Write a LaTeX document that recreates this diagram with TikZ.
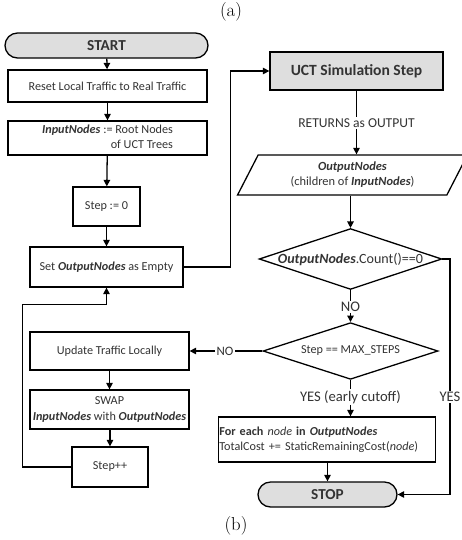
\documentclass[tikz,border=0pt]{standalone}
\usepackage{fontspec}
\usepackage{tikz}
\usetikzlibrary{arrows.meta, shapes.geometric}
\newfontfamily\calfont{Carlito}
\definecolor{termgray}{rgb}{0.87,0.87,0.87}
\definecolor{inkgray}{rgb}{0.2,0.2,0.2}

\newcommand{\bi}[1]{\textbf{\textit{#1}}}

\begin{document}
\begin{tikzpicture}[
  x=0.3mm, y=-0.3mm,
  box/.style={
    draw, line width=1.1pt, align=center, inner sep=1pt,
    text=inkgray, font=\calfont\fontsize{10.4}{13}\selectfont
  },
  term/.style={
    box, rounded corners=3.75mm, fill=termgray, minimum height=7.5mm,
    font=\calfont\bfseries\fontsize{13}{15}\selectfont
  },
  decide/.style={
    diamond, draw, line width=1.1pt, aspect=3, inner sep=0pt,
    minimum width=52.5mm, minimum height=17mm,
    text=inkgray, font=\calfont\fontsize{10.4}{13}\selectfont
  },
  io/.style={
    trapezium, trapezium left angle=64, trapezium right angle=116,
    trapezium stretches=true, draw, line width=1.1pt, align=center,
    minimum width=69mm, minimum height=12mm, inner sep=1pt,
    text=inkgray, font=\calfont\fontsize{10.6}{13}\selectfont
  },
  lbl/.style={inner sep=1pt, text=inkgray, font=\calfont\fontsize{12.5}{15}\selectfont},
  arr/.style={-{Triangle[length=5.5pt, width=5.5pt]}, line width=1.1pt},
  conn/.style={line width=1.1pt},
]
\useasboundingbox (0,0) rectangle (461,540);

%% ---- Captions ----
\node[font=\fontsize{16}{19}\selectfont] (capa) at (231, 12) {(a)};
\node[font=\fontsize{16}{19}\selectfont] (capb) at (236, 526) {(b)};

%% ---- Left column ----
\node[term, minimum width=60.9mm] (start) at (106.5, 45.5) {START};
\node[box, minimum width=59.7mm, minimum height=9.6mm] (reset) at (107.5, 86)
  {Reset Local Traffic to Real Traffic};
\node[box, minimum width=59.7mm, minimum height=10.2mm] (input) at (107.5, 138)
  {\begin{tabular}{@{}r@{}}\bi{InputNodes} := Root Nodes\\ of UCT Trees\end{tabular}};
\node[box, minimum width=20.1mm, minimum height=11.7mm] (stepz) at (106.5, 206.5)
  {Step := 0};
\node[box, minimum width=45.9mm, minimum height=12mm] (setout) at (106.5, 267)
  {Set \bi{OutputNodes} as Empty};
\node[box, minimum width=47.7mm, minimum height=11.4mm] (update) at (109.5, 351)
  {Update Traffic Locally};
\node[box, minimum width=47.7mm, minimum height=11.7mm] (swap) at (109.5, 409.5)
  {SWAP\\ \bi{InputNodes} with \bi{OutputNodes}};
\node[box, minimum width=22.8mm, minimum height=12mm] (stepinc) at (110, 467)
  {Step++};

%% ---- Right column ----
\node[box, fill=termgray, minimum width=51.9mm, minimum height=11.4mm,
  font=\calfont\bfseries\fontsize{13.3}{15}\selectfont] (uct) at (356.5, 71)
  {UCT Simulation Step};
\node[lbl, font=\calfont\fontsize{11.6}{14}\selectfont] (ret) at (356.5, 123)
  {RETURNS as OUTPUT};
\node[io] (outnodes) at (352.5, 175)
  {\bi{OutputNodes}\\ (children of \bi{InputNodes})};
\node[decide, font=\calfont\fontsize{12}{13}\selectfont] (empty) at (350.5, 259)
  {\bi{OutputNodes}.Count()==0};
\node[lbl] (noa) at (350.5, 307) {NO};
\node[decide] (maxstep) at (350.5, 351) {Step == MAX\_STEPS};
\node[lbl, font=\calfont\fontsize{11}{13}\selectfont] (nob) at (225, 351) {NO};
\node[lbl] (yesa) at (350.5, 397) {YES (early cutoff)};
\node[lbl] (yesb) at (450, 397) {YES};
\node[box, align=left, text width=64.6mm, minimum height=13.5mm] (cost) at (327, 439.5)
  {\textbf{For each} \textit{node} \textbf{in} \bi{OutputNodes}\\
   TotalCost += StaticRemainingCost(\textit{node})};
\node[term, minimum width=41.7mm] (stop) at (327.5, 494.5) {STOP};

%% ---- Connectors ----
\draw[arr] (start) -- (reset);
\draw[arr] (reset) -- (input);
\draw[arr] (input) -- (stepz);
\draw[arr] (stepz) -- (setout);
\draw[arr] (setout.east) -- ++(47,0) |- (uct.west);
\draw[conn] (uct.south) -- (uct.south |- ret.north);
\draw[arr] (ret.south) -- (ret.south |- outnodes.north);
\draw[arr] (outnodes.south -| empty.north) -- (empty.north);
\draw[conn] (empty.south) -- (noa.north);
\draw[arr] (noa.south) -- (maxstep.north);
\draw[conn] (maxstep.west) -- (nob.east);
\draw[arr] (nob.west) -- (update.east);
\draw[arr] (update) -- (swap);
\draw[arr] (swap.south -| stepinc.north) -- (stepinc.north);
\draw[arr] (stepinc.west) -- ++(-49,0) |- ([yshift=-5.1mm]setout.south) -- (setout.south);
\draw[conn] (maxstep.south) -- (yesa.north);
\draw[arr] (yesa.south) -- (yesa.south |- cost.north);
\draw[arr] (cost.south -| stop.north) -- (stop.north);
\draw[conn] (empty.east) -| (yesb.north);
\draw[arr] (yesb.south) |- (stop.east);

\end{tikzpicture}
\end{document}
